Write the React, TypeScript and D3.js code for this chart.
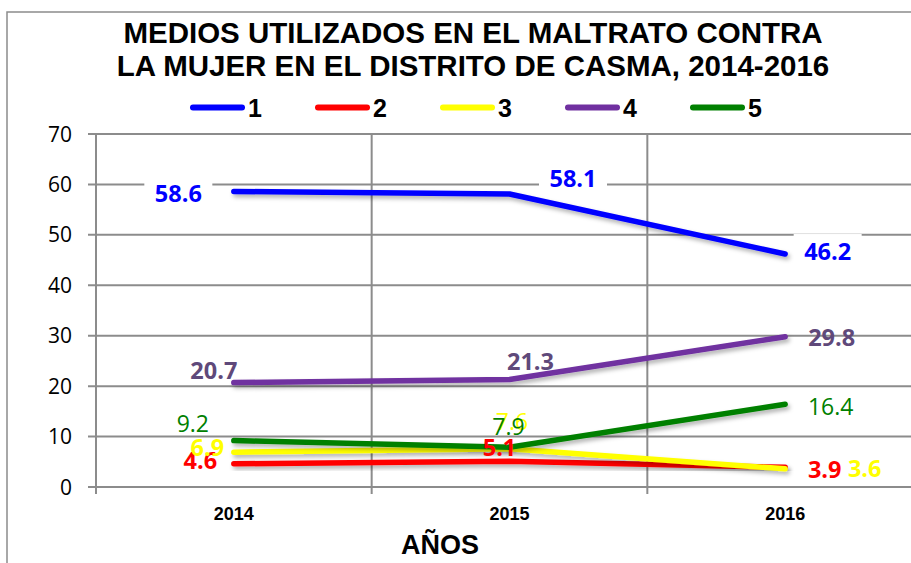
import React from "react";
import * as d3 from "d3";

const categories = ["2014", "2015", "2016"];
const seriesNames = ["1", "2", "3", "4", "5"];
const serie1 = [58.6, 58.1, 46.2];
const serie2 = [4.6, 5.1, 3.9];
const serie3 = [6.9, 7.6, 3.6];
const serie4 = [20.7, 21.3, 29.8];
const serie5 = [9.2, 7.9, 16.4];
const yTicks = [0, 10, 20, 30, 40, 50, 60, 70];
const titleLines = [
  "MEDIOS UTILIZADOS EN EL MALTRATO CONTRA",
  "LA MUJER EN EL DISTRITO DE CASMA, 2014-2016",
];
const xTitle = "AÑOS";

const lineColors = ["#0000FF", "#FF0000", "#FFFF00", "#7030A0", "#008000"];
const labelColors = ["#0000FF", "#FF0000", "#FFFF00", "#5F497A", "#008000"];

// label placement (layout only): dx, dy offsets from the point, bold, background
const labelLayout = [
  [
    { dx: -55.5, dy: 2, bold: true, bg: true },
    { dx: 63.5, dy: -15.7, bold: true, bg: true },
    { dx: 42.5, dy: -2, bold: true, bg: true },
  ],
  [
    { dx: -33.5, dy: -3, bold: true },
    { dx: -10, dy: -14, bold: true },
    { dx: 39.5, dy: 2, bold: true },
  ],
  [
    { dx: -26.5, dy: -5, bold: true },
    { dx: 2.5, dy: -27, bold: false },
    { dx: 79.5, dy: 0, bold: true },
  ],
  [
    { dx: -20, dy: -12, bold: true },
    { dx: 21, dy: -18, bold: true },
    { dx: 46.5, dy: 1, bold: true },
  ],
  [
    { dx: -41, dy: -17, bold: false },
    { dx: -1, dy: -20, bold: false },
    { dx: 45.5, dy: 2, bold: false },
  ],
];

export default function App() {
  const W = 911;
  const H = 563;
  const allSeries = [serie1, serie2, serie3, serie4, serie5];
  const x = d3.scaleBand<string>().domain(categories).range([96, 923]).padding(0);
  const y = d3.scaleLinear().domain([0, 70]).range([487, 134]);
  const cx = (c: string) => (x(c) as number) + x.bandwidth() / 2;
  const line = d3
    .line<number>()
    .x((_, i) => cx(categories[i]))
    .y((d) => y(d));
  const grid = "#8C8C8C";
  const labelFont = "'Open Sans', Lato, sans-serif";
  const bounds = [...categories.map((c) => x(c) as number), 96 + x.bandwidth() * 3];

  return (
    <svg
      width={W}
      height={H}
      style={{ position: "absolute", left: 0, top: 0, background: "#fff" }}
    >
      <defs>
        <filter id="shadow" x="-10%" y="-50%" width="120%" height="200%">
          <feDropShadow dx="2" dy="3" stdDeviation="2" floodColor="#000" floodOpacity="0.3" />
        </filter>
      </defs>
      <rect x={0} y={0} width={W} height={H} fill="#fff" />
      {/* outer frame */}
      <rect x={7} y={12} width={W + 20} height={H + 20} fill="none" stroke="#8C8C8C" strokeWidth={1.5} />

      {/* title */}
      {titleLines.map((t, i) => (
        <text
          key={t}
          x={473}
          y={43 + i * 33}
          textAnchor="middle"
          fontFamily="'Liberation Sans', Arial, sans-serif"
          fontWeight="bold"
          fontSize={29.5}
          fill="#000"
        >
          {t}
        </text>
      ))}

      {/* legend */}
      {seriesNames.map((n, i) => {
        const x1 = 190 + i * 125;
        return (
          <g key={n}>
            <line x1={x1 + 3} x2={x1 + 52} y1={107.5} y2={107.5} stroke={lineColors[i]} strokeWidth={6} strokeLinecap="round" />
            <text x={x1 + 58} y={117} fontFamily="'Liberation Sans', Arial, sans-serif" fontWeight="bold" fontSize={25} fill="#000">
              {n}
            </text>
          </g>
        );
      })}

      {/* horizontal gridlines + y ticks */}
      {yTicks.map((t) => (
        <g key={t}>
          <line x1={88} x2={W} y1={y(t)} y2={y(t)} stroke={grid} strokeWidth={2} />
          <text x={72} y={y(t) + 7.5} textAnchor="end" fontFamily={labelFont} fontSize={21} fill="#000">
            {t}
          </text>
        </g>
      ))}
      {/* vertical gridlines and axis */}
      {bounds.map((b, i) => (
        <line key={i} x1={b} x2={b} y1={134} y2={494} stroke={grid} strokeWidth={2} />
      ))}

      {/* label backgrounds */}
      {allSeries.map((s, si) =>
        s.map((v, i) => {
          const L = labelLayout[si][i];
          if (!L.bg) return null;
          const px = cx(categories[i]) + L.dx;
          const py = y(v) + L.dy;
          return <rect key={`bg${si}-${i}`} x={px - 34} y={py - 18} width={68} height={36} fill="#fff" />;
        })
      )}

      {/* lines */}
      {allSeries.map((s, si) => (
        <path
          key={`l${si}`}
          d={line(s) as string}
          fill="none"
          stroke={lineColors[si]}
          strokeWidth={5.5}
          strokeLinecap="round"
          strokeLinejoin="round"
          filter="url(#shadow)"
        />
      ))}

      {/* data labels */}
      {allSeries.map((s, si) =>
        s.map((v, i) => {
          const L = labelLayout[si][i];
          const fs = L.bold ? 23.5 : 23;
          const px = cx(categories[i]) + L.dx;
          const py = y(v) + L.dy;
          return (
            <text
              key={`t${si}-${i}`}
              x={px}
              y={py + fs * 0.36}
              textAnchor="middle"
              fontFamily={labelFont}
              fontWeight={L.bold ? "bold" : "normal"}
              fontSize={fs}
              fill={labelColors[si]}
            >
              {v.toFixed(1)}
            </text>
          );
        })
      )}

      {/* x labels */}
      {categories.map((c) => (
        <text key={c} x={cx(c)} y={520} textAnchor="middle" fontFamily="'Liberation Sans', Arial, sans-serif" fontWeight="bold" fontSize={18} fill="#000">
          {c}
        </text>
      ))}
      <text x={440} y={554} textAnchor="middle" fontFamily="'Liberation Sans', Arial, sans-serif" fontWeight="bold" fontSize={27} fill="#000">
        {xTitle}
      </text>
    </svg>
  );
}
